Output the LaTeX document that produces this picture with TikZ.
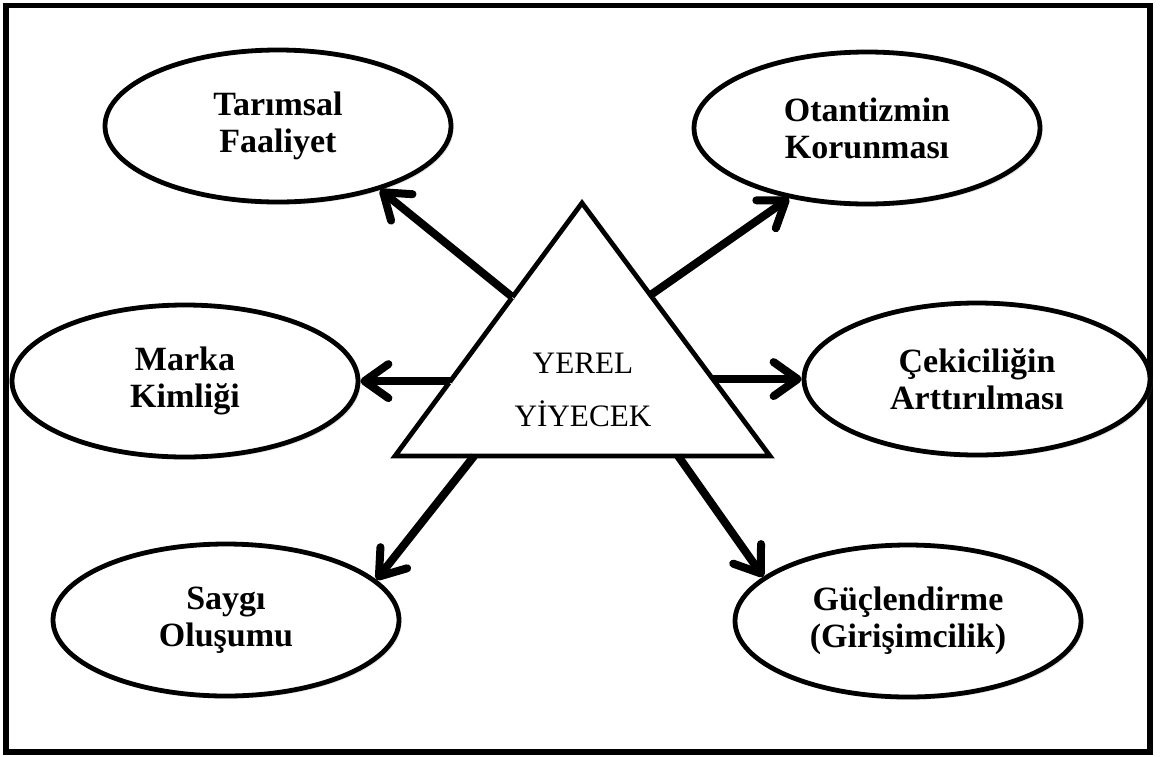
\documentclass[tikz,border=0pt]{standalone}
\usepackage{fontspec}
\setmainfont{Liberation Serif}
\usetikzlibrary{arrows.meta,positioning,shapes.geometric,calc,shadows}

\begin{document}
\begin{tikzpicture}[
    x=0.5pt, y=-0.5pt,
    goal/.style={ellipse, draw, line width=2.4pt, fill=white,
      minimum width=173pt, minimum height=76pt, inner sep=0pt, align=center,
      font=\bfseries\fontsize{17}{18.5}\selectfont,
      drop shadow={opacity=0.2, shadow xshift=1.3pt, shadow yshift=-1.3pt}},
    link/.style={line width=4pt,
      -{Straight Barb[length=12pt,width=17pt,line cap=round,line join=round]},
      preaction={draw=black!18, transform canvas={shift={(1.3pt,-1.3pt)}}}},
    core/.style={line width=2.4pt, line join=miter}
  ]
  \useasboundingbox (0,0) rectangle (1161,756);
  \draw[line width=2.8pt] (6,5.5) rectangle (1150,752);

  % central triangle
  \coordinate (apex) at (582,203);
  \coordinate (bl) at (395,456);
  \coordinate (br) at (770,456);
  \draw[core] (apex) -- (bl) -- (br) -- cycle;
  \node[align=center, font=\fontsize{15.6}{26.8}\selectfont] (yerel) at (583,390) {YEREL\\YİYECEK};

  % outcomes
  \node[goal] (tarim)  at (278,126) {Tarımsal\\Faaliyet};
  \node[goal] (otant)  at (867,128) {Otantizmin\\Korunması};
  \node[goal] (marka)  at (185,381) {Marka\\Kimliği};
  \node[goal] (cekici) at (977,379) {Çekiciliğin\\Arttırılması};
  \node[goal] (saygi)  at (226,620) {Saygı\\Oluşumu};
  \node[goal] (guclen) at (908,621) {Güçlendirme\\(Girişimcilik)};

  % arrows out of the triangle
  \coordinate (t1) at ($(bl)!0.628!(apex)$);
  \coordinate (t2) at ($(br)!0.636!(apex)$);
  \coordinate (t3) at ($(bl)!0.296!(apex)$);
  \coordinate (t4) at ($(br)!0.304!(apex)$);
  \coordinate (t5) at ($(bl)!0.211!(br)$);
  \coordinate (t6) at ($(bl)!0.755!(br)$);
  \draw[link] (t1) -- (tarim.-32);
  \draw[link] (t2) -- (otant.-138);
  \draw[link] (t3) -- (t3 -| marka.east);
  \draw[link] (t4) -- (t4 -| cekici.west);
  \draw[link] (t5) -- (saygi.15);
  \draw[link] (t6) -- (guclen.163);
\end{tikzpicture}
\end{document}
